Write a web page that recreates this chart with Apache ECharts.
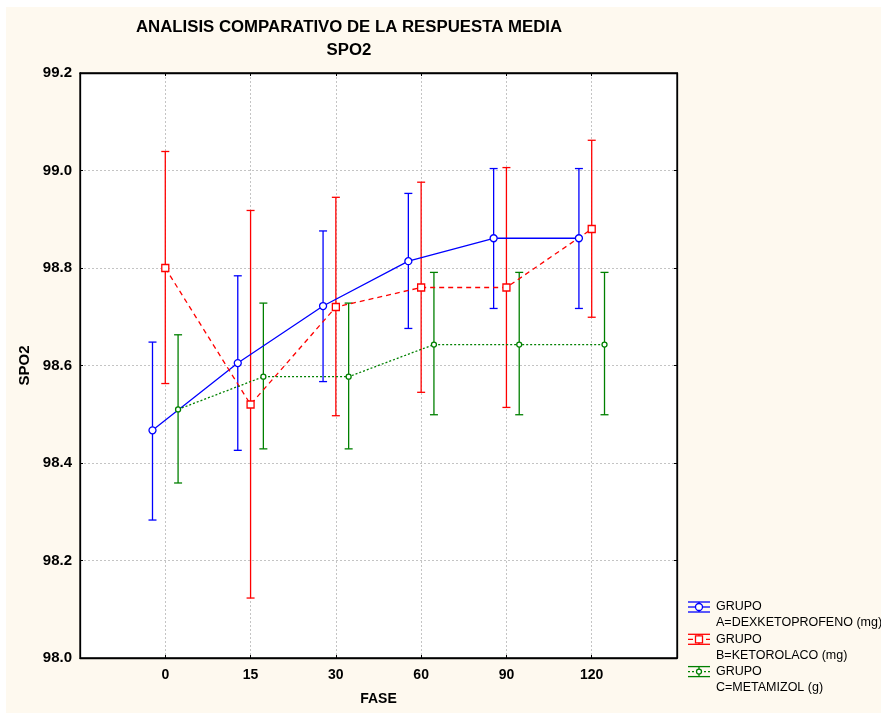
<!DOCTYPE html>
<html>
<head>
<meta charset="utf-8">
<script src="https://cdn.jsdelivr.net/npm/echarts@6/dist/echarts.min.js"></script>
<style>
  html, body { margin: 0; padding: 0; background: #ffffff; }
  #chart { width: 881px; height: 713px; }
</style>
</head>
<body>
<div id="chart"></div>
<script>
// Phases (minutes) on the x axis
const fases = ['0', '15', '30', '60', '90', '120'];
const yTicks = [98.0, 98.2, 98.4, 98.6, 98.8, 99.0, 99.2];

// Group A: DEXKETOPROFENO
const grupoA_media = [98.467, 98.605, 98.722, 98.814, 98.861, 98.861];
const grupoA_inf   = [98.283, 98.426, 98.567, 98.676, 98.717, 98.717];
const grupoA_sup   = [98.648, 98.784, 98.876, 98.953, 99.004, 99.004];

// Group B: KETOROLACO
const grupoB_media = [98.800, 98.520, 98.720, 98.760, 98.760, 98.880];
const grupoB_inf   = [98.563, 98.123, 98.497, 98.545, 98.514, 98.699];
const grupoB_sup   = [99.039, 98.918, 98.945, 98.976, 99.006, 99.062];

// Group C: METAMIZOL
const grupoC_media = [98.510, 98.577, 98.577, 98.643, 98.643, 98.643];
const grupoC_inf   = [98.359, 98.429, 98.429, 98.499, 98.499, 98.499];
const grupoC_sup   = [98.663, 98.728, 98.728, 98.791, 98.791, 98.791];

const nombres = [
  'GRUPO\nA=DEXKETOPROFENO (mg)',
  'GRUPO\nB=KETOROLACO (mg)',
  'GRUPO\nC=METAMIZOL (g)'
];

const grupos = [
  { media: grupoA_media, inf: grupoA_inf, sup: grupoA_sup, color: '#0000ff', dx: -0.15,
    line: 'solid', symbol: 'circle', size: 7 },
  { media: grupoB_media, inf: grupoB_inf, sup: grupoB_sup, color: '#ff0000', dx: 0,
    line: [5, 4], symbol: 'rect', size: 7 },
  { media: grupoC_media, inf: grupoC_inf, sup: grupoC_sup, color: '#008000', dx: 0.15,
    line: [2, 2], symbol: 'circle', size: 5 }
];

const FONT = 'Liberation Sans, Arial, sans-serif';
const chart = echarts.init(document.getElementById('chart'));

// Error bar: vertical whisker with horizontal caps
function errorBarRenderer(color) {
  return function (params, api) {
    const x = api.value(0);
    const top = api.coord([x, api.value(2)]);
    const bot = api.coord([x, api.value(1)]);
    const h = 4;
    const st = { stroke: color, lineWidth: 1.3 };
    return {
      type: 'group',
      children: [
        { type: 'line', shape: { x1: top[0], y1: top[1], x2: bot[0], y2: bot[1] }, style: st },
        { type: 'line', shape: { x1: top[0] - h, y1: top[1], x2: top[0] + h, y2: top[1] }, style: st },
        { type: 'line', shape: { x1: bot[0] - h, y1: bot[1], x2: bot[0] + h, y2: bot[1] }, style: st }
      ]
    };
  };
}

const series = [];
grupos.forEach(function (g, i) {
  series.push({
    name: nombres[i],
    type: 'custom',
    renderItem: errorBarRenderer(g.color),
    data: fases.map(function (_, k) { return [k + g.dx, g.inf[k], g.sup[k]]; }),
    encode: { x: 0, y: [1, 2] },
    z: 2,
    silent: true
  });
  series.push({
    name: nombres[i],
    type: 'line',
    data: fases.map(function (_, k) { return [k + g.dx, g.media[k]]; }),
    lineStyle: { color: g.color, width: 1.3, type: g.line },
    symbol: g.symbol,
    symbolSize: g.size,
    itemStyle: { color: '#ffffff', borderColor: g.color, borderWidth: 1.3 },
    z: 3,
    silent: true,
    animation: false
  });
});

// Legend drawn as error-bar icons with two-line labels
const legendGraphics = [];
grupos.forEach(function (g, i) {
  const cy = 607 + i * 32.3;
  const x1 = 688, x2 = 710, xc = 699;
  const st = { stroke: g.color, lineWidth: 1.3 };
  legendGraphics.push(
    { type: 'line', shape: { x1: x1, y1: cy - 5, x2: x2, y2: cy - 5 }, style: st },
    { type: 'line', shape: { x1: x1, y1: cy + 5, x2: x2, y2: cy + 5 }, style: st },
    { type: 'line', shape: { x1: xc, y1: cy - 5, x2: xc, y2: cy + 5 }, style: st },
    { type: 'line', shape: { x1: x1, y1: cy, x2: x2, y2: cy },
      style: { stroke: g.color, lineWidth: 1.3, lineDash: g.line === 'solid' ? null : g.line } },
    g.symbol === 'rect'
      ? { type: 'rect', shape: { x: xc - 3.5, y: cy - 3.5, width: 7, height: 7 },
          style: { fill: '#ffffff', stroke: g.color, lineWidth: 1.3 } }
      : { type: 'circle', shape: { cx: xc, cy: cy, r: g.size / 2 },
          style: { fill: '#ffffff', stroke: g.color, lineWidth: 1.3 } },
    { type: 'text', x: 716, y: cy - 8,
      style: { text: nombres[i], font: '12.5px ' + FONT, fill: '#000000',
               verticalAlign: 'top', lineHeight: 16 } }
  );
});

const option = {
  backgroundColor: '#ffffff',
  animation: false,
  graphic: [
    { type: 'rect', shape: { x: 6, y: 7, width: 875, height: 706 },
      style: { fill: '#fef9ef' }, z: -10, silent: true },
    { type: 'text', x: 349, y: 27,
      style: { text: 'ANALISIS COMPARATIVO DE LA RESPUESTA MEDIA', font: 'bold 16.8px ' + FONT,
               fill: '#000000', align: 'center', verticalAlign: 'middle' } },
    { type: 'text', x: 349, y: 50,
      style: { text: 'SPO2', font: 'bold 16.8px ' + FONT,
               fill: '#000000', align: 'center', verticalAlign: 'middle' } }
  ].concat(legendGraphics),
  grid: {
    left: 80, top: 73, right: 204, bottom: 55,
    show: true, backgroundColor: '#ffffff', borderColor: '#000000', borderWidth: 1.3,
    containLabel: false
  },
  xAxis: [
    {
      type: 'value', min: -1, max: 6, interval: 1,
      name: 'FASE', nameLocation: 'middle', nameGap: 34,
      nameTextStyle: { fontFamily: FONT, fontWeight: 'bold', fontSize: 14, color: '#000' },
      axisLine: { show: true, onZero: false, lineStyle: { color: '#000', width: 1.3 } },
      axisTick: { show: true, inside: true, length: 3, lineStyle: { color: '#000' } },
      axisLabel: {
        margin: 10, fontFamily: FONT, fontWeight: 'bold', fontSize: 14, color: '#000',
        formatter: function (v) { return (v >= 0 && v < fases.length) ? fases[v] : ''; }
      },
      splitLine: { show: true, lineStyle: { color: '#c4c4c4', type: [2, 2], width: 1 } }
    },
    {
      type: 'value', min: -1, max: 6, interval: 1, position: 'top',
      axisLine: { show: true, onZero: false, lineStyle: { color: '#000', width: 1.3 } },
      axisTick: { show: true, inside: true, length: 3, lineStyle: { color: '#000' } },
      axisLabel: { show: false }, splitLine: { show: false }
    }
  ],
  yAxis: [
    {
      type: 'value', min: yTicks[0], max: yTicks[yTicks.length - 1], interval: 0.2,
      name: 'SPO2', nameLocation: 'middle', nameGap: 48, nameRotate: 90,
      nameTextStyle: { fontFamily: FONT, fontWeight: 'bold', fontSize: 15, color: '#000' },
      axisLine: { show: true, onZero: false, lineStyle: { color: '#000', width: 1.3 } },
      axisTick: { show: true, inside: true, length: 3, lineStyle: { color: '#000' } },
      axisLabel: {
        margin: 8, fontFamily: FONT, fontWeight: 'bold', fontSize: 15, color: '#000',
        formatter: function (v) { return v.toFixed(1); }
      },
      splitLine: { show: true, lineStyle: { color: '#c4c4c4', type: [2, 2], width: 1 } }
    },
    {
      type: 'value', min: yTicks[0], max: yTicks[yTicks.length - 1], interval: 0.2, position: 'right',
      axisLine: { show: true, onZero: false, lineStyle: { color: '#000', width: 1.3 } },
      axisTick: { show: true, inside: true, length: 3, lineStyle: { color: '#000' } },
      axisLabel: { show: false }, splitLine: { show: false }
    }
  ],
  series: series
};

chart.setOption(option);
</script>
</body>
</html>
